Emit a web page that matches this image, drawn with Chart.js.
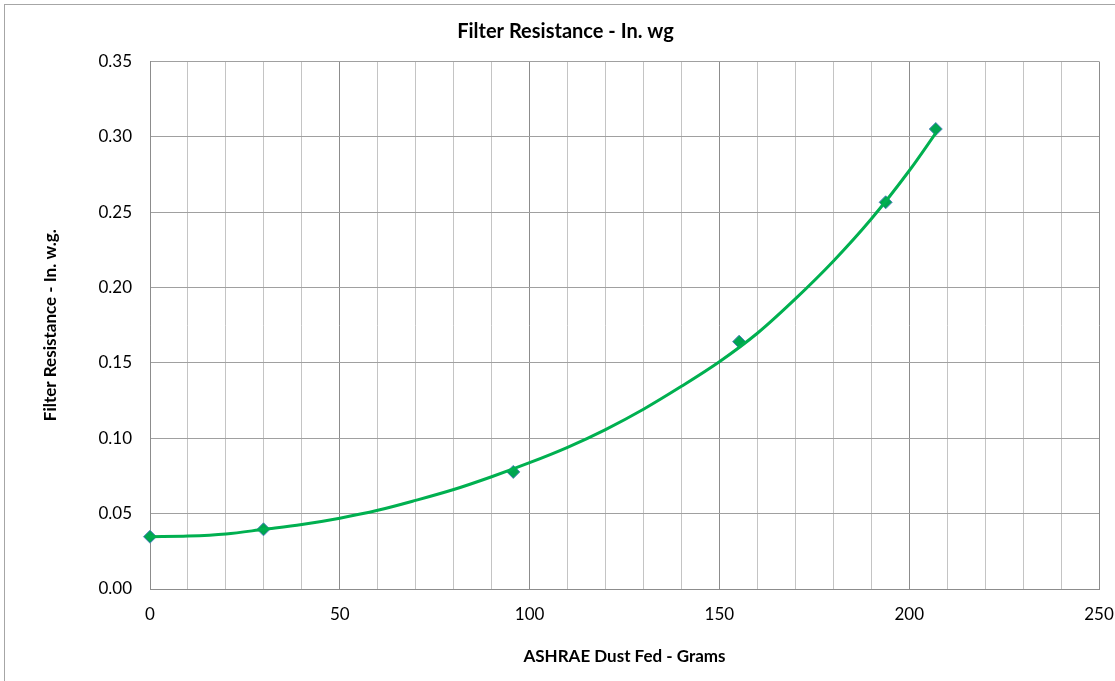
<!DOCTYPE html>
<html>
<head>
<meta charset="utf-8">
<script src="https://cdn.jsdelivr.net/npm/chart.js@4"></script>
<style>
  html, body { margin:0; padding:0; background:#fff; overflow:hidden; }
  #frame { position:absolute; left:4px; top:4px; width:2000px; height:2000px; border:1px solid #a6a6a6; box-sizing:border-box; }
  #c { position:absolute; left:0; top:0; }
</style>
</head>
<body>
<div id="frame"></div>
<canvas id="c" width="1115" height="681"></canvas>
<script>
// Measured data (ASHRAE dust fed in grams vs. resistance in in. w.g.)
const dustFed = [0, 29.9, 95.7, 155.2, 193.8, 207.0];
const resistance = [0.0347, 0.0396, 0.0777, 0.1641, 0.2566, 0.3052];

// Trendline
const trendX = [0, 10, 20, 30, 40, 50, 60, 70, 80, 90, 100, 110, 120, 130, 140, 150, 160, 170, 180, 190, 200, 207];
const trendY = [0.0347, 0.0351, 0.0365, 0.0396, 0.0428, 0.0470, 0.0522, 0.0588, 0.0660, 0.0745, 0.0838, 0.0940, 0.1058, 0.1193, 0.1345, 0.1508, 0.1697, 0.1925, 0.2175, 0.2455, 0.2775, 0.3025];

const xTicks = [0, 50, 100, 150, 200, 250];
const yTicks = [0.00, 0.05, 0.10, 0.15, 0.20, 0.25, 0.30, 0.35];

const chartTitle = 'Filter Resistance - In. wg';
const xTitle = 'ASHRAE Dust Fed - Grams';
const yTitle = 'Filter Resistance - In. w.g.';

const FONT = 'Lato, Calibri, "Open Sans", sans-serif';

// Excel centres the chart title on the whole chart frame; nudge Chart.js' title block
const titleShift = {
  id: 'titleShift',
  afterLayout(chart) {
    const tb = chart.titleBlock;
    if (tb) { tb.left += 16; tb.right += 16; }
  }
};

new Chart(document.getElementById('c'), {
  type: 'scatter',
  plugins: [titleShift],
  data: {
    datasets: [
      {
        label: 'Trend',
        data: trendX.map((x, i) => ({x, y: trendY[i]})),
        showLine: true,
        borderColor: '#00B050',
        borderWidth: 3,
        pointRadius: 0,
        cubicInterpolationMode: 'monotone',
        clip: false,
        order: 0
      },
      {
        label: 'Resistance',
        data: dustFed.map((x, i) => ({x, y: resistance[i]})),
        showLine: false,
        pointStyle: 'rectRot',
        pointRadius: 6.5,
        pointBackgroundColor: '#00A550',
        pointBorderColor: '#4F81BD',
        pointBorderWidth: 1,
        clip: false,
        order: 1
      }
    ]
  },
  options: {
    responsive: false,
    animation: false,
    devicePixelRatio: 1,
    layout: { padding: { left: 0, right: 16, top: 0, bottom: 0 } },
    plugins: {
      legend: { display: false },
      tooltip: { enabled: false },
      title: {
        display: true,
        text: chartTitle,
        color: '#000',
        font: { family: FONT, size: 20, weight: 'bold' },
        padding: { top: 19.5, bottom: 18 }
      }
    },
    scales: {
      x: {
        type: 'linear',
        min: 0, max: 250,
        afterFit: s => { s.height = 92; s.paddingLeft = 0; s.paddingRight = 0; },
        afterBuildTicks: s => {
          const t = [];
          for (let v = 0; v <= 250; v += 10) t.push({value: v});
          s.ticks = t;
        },
        ticks: {
          autoSkip: false, maxRotation: 0, padding: 15,
          color: '#000',
          font: { family: FONT, size: 17 },
          callback: v => xTicks.includes(v) ? String(v) : ''
        },
        grid: {
          drawTicks: false,
          lineWidth: 1,
          color: ctx => (ctx.tick && ctx.tick.value % 50 === 0) ? '#8c8c8c' : '#c4c4c4'
        },
        border: { display: true, color: '#8c8c8c' },
        title: {
          display: true, text: xTitle, color: '#000',
          font: { family: FONT, size: 17, weight: 'bold' },
          padding: { top: 0, bottom: 14 }
        }
      },
      y: {
        type: 'linear',
        min: 0, max: 0.35,
        afterFit: s => { s.width = 150; s.paddingTop = 0; s.paddingBottom = 0; },
        afterBuildTicks: s => { s.ticks = yTicks.map(v => ({value: v})); },
        ticks: {
          padding: 18,
          color: '#000',
          font: { family: FONT, size: 17 },
          callback: v => Number(v).toFixed(2)
        },
        grid: { drawTicks: false, color: '#a0a0a0', lineWidth: 1 },
        border: { display: true, color: '#8c8c8c' },
        title: {
          display: true, text: yTitle, color: '#000',
          font: { family: FONT, size: 17, weight: 'bold' },
          padding: { top: 40, bottom: 0 }
        }
      }
    }
  }
});
</script>
</body>
</html>
